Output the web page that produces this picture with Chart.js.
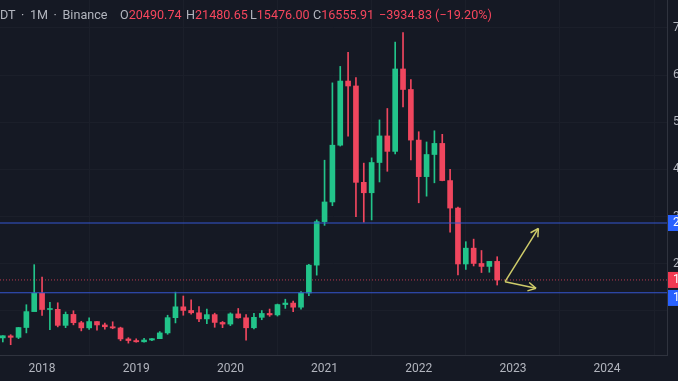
<!DOCTYPE html>
<html><head><meta charset="utf-8">
<script src="https://cdn.jsdelivr.net/npm/chart.js@4"></script>
<style>
html,body{margin:0;padding:0;background:#151924;overflow:hidden;width:678px;height:381px;}
#wrap{position:relative;width:740px;height:381px;}
canvas{position:absolute;left:0;top:0;}
#hdr{position:absolute;left:0;top:7px;height:16px;font:12.6px Roboto, sans-serif;white-space:nowrap;line-height:16px;}
.g{color:#b2b5be}.r{color:#f6465d}
</style></head><body>
<div id="wrap"><canvas id="c" width="740" height="381"></canvas><div id="hdr"></div></div>
<script>
// ---- data (monthly BTC/USDT, Binance) ----
const months = ['2017-08','2017-09','2017-10','2017-11','2017-12',
 '2018-01','2018-02','2018-03','2018-04','2018-05','2018-06','2018-07','2018-08','2018-09','2018-10','2018-11','2018-12',
 '2019-01','2019-02','2019-03','2019-04','2019-05','2019-06','2019-07','2019-08','2019-09','2019-10','2019-11','2019-12',
 '2020-01','2020-02','2020-03','2020-04','2020-05','2020-06','2020-07','2020-08','2020-09','2020-10','2020-11','2020-12',
 '2021-01','2021-02','2021-03','2021-04','2021-05','2021-06','2021-07','2021-08','2021-09','2021-10','2021-11','2021-12',
 '2022-01','2022-02','2022-03','2022-04','2022-05','2022-06','2022-07','2022-08','2022-09','2022-10','2022-11'];
const open  = [4261,4689,4378,6463,9838, 13716,10285,10326,6923,9246,7485,6391,7730,7011,6626,6371,4041,
 3702,3434,3814,4103,5321,8555,10855,10086,9588,8292,9199,7546, 7195,9352,8523,6412,8620,9448,9138,11335,11649,10776,13791,19695,
 28923,33092,45134,58739,57697,37254,35045,41461,47100,43820,61300,56951, 46216,38466,43160,45510,37631,31801,19942,23296,20048,19423,20490.74];
const high  = [4745,4939,6470,11300,19798, 17176,11786,11710,9759,10020,7786,8507,7750,7410,7680,6543,4312,
 4069,4198,4140,5600,9074,13970,13147,12325,10905,10370,9505,7750, 9578,10500,9188,9460,10067,10380,11444,12468,12050,14100,19863,29300,
 41950,58352,61844,64854,59500,41330,42448,50500,52920,67000,69000,59053, 47990,45821,48189,47444,40023,31982,24668,25211,22799,20476,21480.65];
const low   = [3400,2817,4110,5325,12750, 9035,6000,6600,6430,7032,5750,6070,5880,6111,6205,3652,3157,
 3349,3373,3670,4096,5031,7440,9067,9320,7710,7300,6515,6435, 6871,8451,3782,6150,8117,8833,8893,10518,9825,10374,13195,17572,
 28130,32296,44950,47044,30000,28805,29278,37332,39600,43283,53256,42000, 32917,34322,37155,37578,26700,17622,18781,19520,18125,18190,15476.00];
const close = [4724,4378,6463,9838,13716, 10285,10326,6923,9246,7485,6391,7730,7011,6626,6371,4041,3702,
 3434,3813,4103,5321,8555,10855,10085,9588,8293,9199,7546,7193, 9352,8523,6410,8620,9448,9138,11335,11649,10776,13791,19695,28923,
 33092,45135,58740,57694,37253,35045,41461,47100,43824,61299,56950,46216, 38466,43160,45510,37630,31801,19942,23293,20050,19422,20490,16555.91];
const yearTickIndex  = [5,17,29,41,53,65,77];
const yearTickLabels = ['2018','2019','2020','2021','2022','2023','2024'];
const priceTicks = [10000,20000,30000,40000,50000,60000,70000];
const levelValues = [28632, 13850];
const arrowUpX = [64.0, 68.25],  arrowUpY = [16180, 27500];
const arrowDownX = [64.0, 67.95], arrowDownY = [16180, 14780];
const viewX = [-0.36, 84.64];
const viewY = [636, 75928];

// ---- style ----
const UP='#22c48a', DOWN='#f0465e', BG='#151924', GRID='#1b1f2a', AXIS='#b2b5be';
const idx = months.map((m,i)=>i);
const candleColor = idx.map(i => close[i] >= open[i] ? UP : DOWN);
const last = months.length-1;

// header
const chg = close[last]-open[last], pct = chg/open[last]*100;
const fmt = v => (v<0?'\u2212':'')+Math.abs(v).toFixed(2);
const hdr = document.getElementById('hdr');
const parts = [
  [0,  '<span class="g" style="word-spacing:2.5px">DT · 1M · Binance</span>'],
  [120,'<span class="g">O</span><span class="r">'+fmt(open[last])+'</span>'],
  [186,'<span class="g">H</span><span class="r">'+fmt(high[last])+'</span>'],
  [250,'<span class="g">L</span><span class="r">'+fmt(low[last])+'</span>'],
  [313,'<span class="g">C</span><span class="r">'+fmt(close[last])+'</span>'],
  [379,'<span class="r">'+fmt(chg)+' ('+fmt(pct)+'%)</span>']
];
hdr.innerHTML = parts.map(p=>'<span style="left:'+p[0]+'px;position:absolute;top:0;white-space:nowrap">'+p[1]+'</span>').join('');

const noPad = s => { s.paddingTop = 0; s.paddingBottom = 0; s.paddingLeft = 0; s.paddingRight = 0; };

const overlay = {
  id:'overlay',
  afterDatasetsDraw(chart){
    const ctx = chart.ctx;
    ctx.save();
    [4,5].forEach(di=>{
      const meta = chart.getDatasetMeta(di);
      const p0 = meta.data[0], p1 = meta.data[1];
      const a = Math.atan2(p1.y-p0.y, p1.x-p0.x);
      ctx.strokeStyle = chart.data.datasets[di].borderColor;
      ctx.lineWidth = 1.5;
      ctx.beginPath();
      [-0.5,0.5].forEach(d=>{
        ctx.moveTo(p1.x,p1.y);
        ctx.lineTo(p1.x-9*Math.cos(a+d), p1.y-9*Math.sin(a+d));
      });
      ctx.stroke();
    });
    ctx.restore();
  },
  afterDraw(chart){
    const ctx = chart.ctx, ca = chart.chartArea, ys = chart.scales.y;
    ctx.save();
    const h = 16;
    const yC = ys.getPixelForValue(close[last]);
    const boxes = [];
    boxes.push({y:yC-h/2, col:'#f23a52', v:close[last]});
    const yU = ys.getPixelForValue(levelValues[0]);
    boxes.push({y:yU-h/2, col:'#2962ff', v:levelValues[0]});
    let yL = ys.getPixelForValue(levelValues[1]) - h/2;
    if (yL < yC + h/2 + 2) yL = yC + h/2 + 2;
    boxes.push({y:yL, col:'#2962ff', v:levelValues[1]});
    ctx.font = '12px Roboto, sans-serif';
    ctx.textBaseline = 'middle';
    boxes.forEach(b=>{
      ctx.fillStyle = b.col;
      ctx.fillRect(ca.right+1, b.y, 70, h);
      ctx.fillStyle = '#ffffff';
      ctx.fillText(b.v.toFixed(2), ca.right+6, b.y+h/2+0.5);
    });
    ctx.restore();
  }
};

new Chart(document.getElementById('c'), {
  type:'bar',
  data:{
    datasets:[
      { type:'bar', label:'body', order:1, grouped:false, barThickness:5, minBarLength:1,
        data: idx.map(i=>({x:i, y:[open[i], close[i]]})),
        backgroundColor: candleColor, borderWidth:0 },
      { type:'bar', label:'wick', order:2, grouped:false, barThickness:1,
        data: idx.map(i=>({x:i, y:[low[i], high[i]]})),
        backgroundColor: candleColor, borderWidth:0 },
      { type:'line', label:'levels-up', order:0, borderColor:'#3556cf', borderWidth:1.1, pointRadius:0,
        data: viewX.map(x=>({x, y:levelValues[0]})) },
      { type:'line', label:'levels-down', order:0, borderColor:'#3556cf', borderWidth:1.1, pointRadius:0,
        data: viewX.map(x=>({x, y:levelValues[1]})) },
      { type:'line', label:'arrow-up', order:0, borderColor:'#cfcc6a', borderWidth:1.5, pointRadius:0,
        data: arrowUpX.map((x,k)=>({x, y:arrowUpY[k]})) },
      { type:'line', label:'arrow-down', order:0, borderColor:'#cfcc6a', borderWidth:1.5, pointRadius:0,
        data: arrowDownX.map((x,k)=>({x, y:arrowDownY[k]})) },
      { type:'line', label:'price', order:3, borderColor:'rgba(240,70,94,0.75)', borderWidth:1, borderDash:[1,2], pointRadius:0,
        data: viewX.map(x=>({x, y:close[last]})) }
    ]
  },
  options:{
    responsive:false, animation:false, devicePixelRatio:1,
    layout:{padding:0},
    plugins:{legend:{display:false}, tooltip:{enabled:false}},
    scales:{
      x:{ type:'linear', min:viewX[0], max:viewX[1], offset:false,
        afterBuildTicks: s => { s.ticks = yearTickIndex.map(v=>({value:v})); },
        afterFit: s => { s.height = 26; noPad(s); },
        ticks:{ autoSkip:false, maxRotation:0, padding:7, color:AXIS, font:{family:'Roboto', size:12},
          callback: v => yearTickLabels[yearTickIndex.indexOf(v)] },
        grid:{ color:GRID, drawTicks:false },
        border:{ display:true, color:'#2f333e' } },
      y:{ type:'linear', position:'right', min:viewY[0], max:viewY[1],
        afterBuildTicks: s => { s.ticks = priceTicks.map(v=>({value:v})); },
        afterFit: s => { s.width = 740-667; noPad(s); },
        ticks:{ padding:6, color:AXIS, font:{family:'Roboto', size:12},
          callback: v => v === 10000 ? '' : v.toFixed(2) },
        grid:{ color:GRID, drawTicks:false },
        border:{ display:true, color:'#2f333e' } }
    }
  },
  plugins:[overlay, {id:'bg', beforeDraw(c){const x=c.ctx;x.save();x.fillStyle=BG;x.fillRect(0,0,c.width,c.height);x.restore();}}]
});
</script>
</body></html>
